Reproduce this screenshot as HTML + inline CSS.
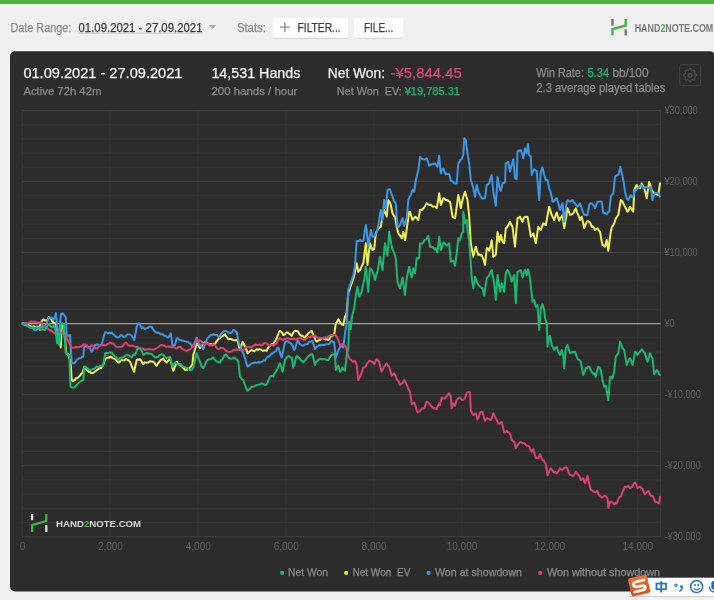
<!DOCTYPE html>
<html><head><meta charset="utf-8"><style>
html,body{margin:0;padding:0;width:714px;height:600px;overflow:hidden;background:#f0f0f0;}
body{position:relative;font-family:"Liberation Sans", sans-serif;}
</style></head><body>
<svg width="714" height="600" viewBox="0 0 714 600" style="position:absolute;left:0;top:0;font-family:'Liberation Sans', sans-serif">
<g opacity="0.999">
<defs><filter id="sh" x="-10%" y="-20%" width="120%" height="150%"><feDropShadow dx="0" dy="0.6" stdDeviation="0.7" flood-color="#000" flood-opacity="0.22"/></filter><clipPath id="plot"><rect x="21" y="100" width="640" height="440"/></clipPath></defs>
<rect x="0" y="0" width="714" height="600" fill="#f0f0f0"/>
<rect x="0" y="0" width="714" height="4" fill="#4caf3c"/>
<text x="10.4" y="31.5" font-size="12.5" fill="#8a8a8a" stroke="#8a8a8a" stroke-width="0.25" textLength="61" lengthAdjust="spacingAndGlyphs"  xml:space="preserve">Date Range:</text>
<text x="78.5" y="31.5" font-size="12.5" fill="#3a3a3a" stroke="#3a3a3a" stroke-width="0.25" textLength="124" lengthAdjust="spacingAndGlyphs"  xml:space="preserve">01.09.2021 - 27.09.2021</text>
<rect x="78" y="32.6" width="125" height="1" fill="#c4c4c4"/>
<path d="M208.7 25 L216.3 25 L212.5 29 Z" fill="#aaaaaa"/>
<text x="236.9" y="31.5" font-size="12.5" fill="#8a8a8a" stroke="#8a8a8a" stroke-width="0.25" textLength="29" lengthAdjust="spacingAndGlyphs"  xml:space="preserve">Stats:</text>
<rect x="273" y="17.7" width="75" height="20" rx="2.5" fill="#ffffff" filter="url(#sh)"/>
<path d="M279.9 27.2 H289.9 M284.9 22.2 V32.2" stroke="#8a8a8a" stroke-width="1.3" fill="none"/>
<text x="297.6" y="31.5" font-size="12.5" fill="#3a3a3a" stroke="#3a3a3a" stroke-width="0.25" textLength="43" lengthAdjust="spacingAndGlyphs"  xml:space="preserve">FILTER...</text>
<rect x="354" y="17.7" width="49.5" height="20" rx="2.5" fill="#ffffff" filter="url(#sh)"/>
<text x="364" y="31.5" font-size="12.5" fill="#3a3a3a" stroke="#3a3a3a" stroke-width="0.25" textLength="29.4" lengthAdjust="spacingAndGlyphs"  xml:space="preserve">FILE...</text>
<g fill="none" stroke-width="2.4" stroke-linecap="butt"><path d="M612.5 18.8 V25.7" stroke="#777"/><path d="M612.5 35.3 V29.2 L625.7 25.5 V18.9" stroke="#3cb54a" stroke-linejoin="miter"/><path d="M625.7 29.2 V35.4" stroke="#777"/></g>
<text x="634.7" y="31.8" font-size="10.2" font-weight="bold" fill="#7a7a7a" textLength="78.6" lengthAdjust="spacingAndGlyphs">HAND<tspan fill="#3cb54a">2</tspan>NOTE.COM</text>
<rect x="10" y="51.2" width="705" height="540.3" rx="5" fill="#2c2c2c"/>
<text x="23.4" y="77.8" font-size="14" fill="#f2f2f2" stroke="#f2f2f2" stroke-width="0.25" textLength="159" lengthAdjust="spacingAndGlyphs"  xml:space="preserve">01.09.2021 - 27.09.2021</text>
<text x="23.4" y="94.7" font-size="11" fill="#8c8c8c" stroke="#8c8c8c" stroke-width="0.25" textLength="78" lengthAdjust="spacingAndGlyphs"  xml:space="preserve">Active 72h 42m</text>
<text x="211.4" y="77.8" font-size="14" fill="#f2f2f2" stroke="#f2f2f2" stroke-width="0.25" textLength="89" lengthAdjust="spacingAndGlyphs"  xml:space="preserve">14,531 Hands</text>
<text x="211.4" y="94.7" font-size="11" fill="#8c8c8c" stroke="#8c8c8c" stroke-width="0.25" textLength="86" lengthAdjust="spacingAndGlyphs"  xml:space="preserve">200 hands / hour</text>
<text x="327.8" y="77.8" font-size="14" fill="#f2f2f2" stroke="#f2f2f2" stroke-width="0.25" textLength="57.2" lengthAdjust="spacingAndGlyphs"  xml:space="preserve">Net Won:</text>
<text x="390.6" y="77.8" font-size="14" fill="#e0457a" stroke="#e0457a" stroke-width="0.25" textLength="71.1" lengthAdjust="spacingAndGlyphs"  xml:space="preserve">-¥5,844.45</text>
<text x="336.8" y="94.7" font-size="11" fill="#8c8c8c" stroke="#8c8c8c" stroke-width="0.25" textLength="65" lengthAdjust="spacingAndGlyphs"  xml:space="preserve">Net Won  EV:</text>
<text x="404.7" y="94.7" font-size="11" fill="#1db870" stroke="#1db870" stroke-width="0.25" textLength="55.3" lengthAdjust="spacingAndGlyphs"  xml:space="preserve">¥19,785.31</text>
<text x="536.3" y="76.7" font-size="12" fill="#8c8c8c" stroke="#8c8c8c" stroke-width="0.25" textLength="47.6" lengthAdjust="spacingAndGlyphs"  xml:space="preserve">Win Rate:</text>
<text x="587.4" y="76.7" font-size="12" fill="#1db870" stroke="#1db870" stroke-width="0.25" textLength="21.7" lengthAdjust="spacingAndGlyphs"  xml:space="preserve">5.34</text>
<text x="612.4" y="76.7" font-size="12" fill="#8c8c8c" stroke="#8c8c8c" stroke-width="0.25" textLength="36.1" lengthAdjust="spacingAndGlyphs"  xml:space="preserve">bb/100</text>
<text x="536.3" y="92" font-size="12" fill="#8c8c8c" stroke="#8c8c8c" stroke-width="0.25" textLength="129.1" lengthAdjust="spacingAndGlyphs"  xml:space="preserve">2.3 average played tables</text>
<rect x="679.7" y="64.7" width="21" height="21" rx="2" fill="none" stroke="#444" stroke-width="1"/>
<path d="M696.57 74.55 L696.57 75.85 L694.69 76.62 L694.32 77.51 L695.10 79.39 L694.19 80.30 L692.31 79.52 L691.42 79.89 L690.65 81.77 L689.35 81.77 L688.58 79.89 L687.69 79.52 L685.81 80.30 L684.90 79.39 L685.68 77.51 L685.31 76.62 L683.43 75.85 L683.43 74.55 L685.31 73.78 L685.68 72.89 L684.90 71.01 L685.81 70.10 L687.69 70.88 L688.58 70.51 L689.35 68.63 L690.65 68.63 L691.42 70.51 L692.31 70.88 L694.19 70.10 L695.10 71.01 L694.32 72.89 L694.69 73.78 Z" fill="none" stroke="#5a5a5a" stroke-width="0.9" stroke-linejoin="round"/>
<circle cx="690" cy="75.2" r="2" fill="none" stroke="#5a5a5a" stroke-width="0.9"/>
<path d="M22 536.75 H660.5" stroke="rgba(255,255,255,0.1)" stroke-width="1.1"/><path d="M22 522.54 H660.5" stroke="rgba(255,255,255,0.045)" stroke-width="1.1"/><path d="M22 508.33 H660.5" stroke="rgba(255,255,255,0.045)" stroke-width="1.1"/><path d="M22 494.12 H660.5" stroke="rgba(255,255,255,0.045)" stroke-width="1.1"/><path d="M22 479.91 H660.5" stroke="rgba(255,255,255,0.045)" stroke-width="1.1"/><path d="M22 465.7 H660.5" stroke="rgba(255,255,255,0.1)" stroke-width="1.1"/><path d="M22 451.49 H660.5" stroke="rgba(255,255,255,0.045)" stroke-width="1.1"/><path d="M22 437.28 H660.5" stroke="rgba(255,255,255,0.045)" stroke-width="1.1"/><path d="M22 423.07 H660.5" stroke="rgba(255,255,255,0.045)" stroke-width="1.1"/><path d="M22 408.86 H660.5" stroke="rgba(255,255,255,0.045)" stroke-width="1.1"/><path d="M22 394.65 H660.5" stroke="rgba(255,255,255,0.1)" stroke-width="1.1"/><path d="M22 380.44 H660.5" stroke="rgba(255,255,255,0.045)" stroke-width="1.1"/><path d="M22 366.23 H660.5" stroke="rgba(255,255,255,0.045)" stroke-width="1.1"/><path d="M22 352.02 H660.5" stroke="rgba(255,255,255,0.045)" stroke-width="1.1"/><path d="M22 337.81 H660.5" stroke="rgba(255,255,255,0.045)" stroke-width="1.1"/><path d="M22 323.6 H660.5" stroke="#a0a0a0" stroke-width="1.2"/><path d="M22 309.39 H660.5" stroke="rgba(255,255,255,0.045)" stroke-width="1.1"/><path d="M22 295.18 H660.5" stroke="rgba(255,255,255,0.045)" stroke-width="1.1"/><path d="M22 280.97 H660.5" stroke="rgba(255,255,255,0.045)" stroke-width="1.1"/><path d="M22 266.76 H660.5" stroke="rgba(255,255,255,0.045)" stroke-width="1.1"/><path d="M22 252.55 H660.5" stroke="rgba(255,255,255,0.1)" stroke-width="1.1"/><path d="M22 238.34 H660.5" stroke="rgba(255,255,255,0.045)" stroke-width="1.1"/><path d="M22 224.13 H660.5" stroke="rgba(255,255,255,0.045)" stroke-width="1.1"/><path d="M22 209.92 H660.5" stroke="rgba(255,255,255,0.045)" stroke-width="1.1"/><path d="M22 195.71 H660.5" stroke="rgba(255,255,255,0.045)" stroke-width="1.1"/><path d="M22 181.5 H660.5" stroke="rgba(255,255,255,0.1)" stroke-width="1.1"/><path d="M22 167.29 H660.5" stroke="rgba(255,255,255,0.045)" stroke-width="1.1"/><path d="M22 153.08 H660.5" stroke="rgba(255,255,255,0.045)" stroke-width="1.1"/><path d="M22 138.87 H660.5" stroke="rgba(255,255,255,0.045)" stroke-width="1.1"/><path d="M22 124.66 H660.5" stroke="rgba(255,255,255,0.045)" stroke-width="1.1"/><path d="M22 110.45 H660.5" stroke="rgba(255,255,255,0.1)" stroke-width="1.1"/><path d="M22.2 110 V537" stroke="rgba(255,255,255,0.04)" stroke-width="1.1"/><path d="M110.1 110 V537" stroke="rgba(255,255,255,0.04)" stroke-width="1.1"/><path d="M198.0 110 V537" stroke="rgba(255,255,255,0.04)" stroke-width="1.1"/><path d="M285.9 110 V537" stroke="rgba(255,255,255,0.04)" stroke-width="1.1"/><path d="M373.8 110 V537" stroke="rgba(255,255,255,0.04)" stroke-width="1.1"/><path d="M461.7 110 V537" stroke="rgba(255,255,255,0.04)" stroke-width="1.1"/><path d="M549.6 110 V537" stroke="rgba(255,255,255,0.04)" stroke-width="1.1"/><path d="M637.5 110 V537" stroke="rgba(255,255,255,0.04)" stroke-width="1.1"/><path d="M660.4 110 V537" stroke="rgba(255,255,255,0.07)" stroke-width="1.1"/>
<text x="664.5" y="113.85000000000002" font-size="10.5" fill="#626262" textLength="33.25" lengthAdjust="spacingAndGlyphs"  xml:space="preserve">¥30,000</text>
<text x="664.5" y="184.90000000000003" font-size="10.5" fill="#626262" textLength="33.25" lengthAdjust="spacingAndGlyphs"  xml:space="preserve">¥20,000</text>
<text x="664.5" y="255.95000000000002" font-size="10.5" fill="#626262" textLength="33.25" lengthAdjust="spacingAndGlyphs"  xml:space="preserve">¥10,000</text>
<text x="664.5" y="327.0" font-size="10.5" fill="#626262" textLength="10.23" lengthAdjust="spacingAndGlyphs"  xml:space="preserve">¥0</text>
<text x="664.5" y="398.05" font-size="10.5" fill="#626262" textLength="36.31" lengthAdjust="spacingAndGlyphs"  xml:space="preserve">-¥10,000</text>
<text x="664.5" y="469.1" font-size="10.5" fill="#626262" textLength="36.31" lengthAdjust="spacingAndGlyphs"  xml:space="preserve">-¥20,000</text>
<text x="664.5" y="540.15" font-size="10.5" fill="#626262" textLength="36.31" lengthAdjust="spacingAndGlyphs"  xml:space="preserve">-¥30,000</text>
<text x="22.5" y="549.6" font-size="10" fill="#626262" text-anchor="middle"  xml:space="preserve">0</text>
<text x="110.4" y="549.6" font-size="10" fill="#626262" text-anchor="middle"  xml:space="preserve">2,000</text>
<text x="198.3" y="549.6" font-size="10" fill="#626262" text-anchor="middle"  xml:space="preserve">4,000</text>
<text x="286.2" y="549.6" font-size="10" fill="#626262" text-anchor="middle"  xml:space="preserve">6,000</text>
<text x="374.1" y="549.6" font-size="10" fill="#626262" text-anchor="middle"  xml:space="preserve">8,000</text>
<text x="462.0" y="549.6" font-size="10" fill="#626262" text-anchor="middle"  xml:space="preserve">10,000</text>
<text x="549.9" y="549.6" font-size="10" fill="#626262" text-anchor="middle"  xml:space="preserve">12,000</text>
<text x="637.8" y="549.6" font-size="10" fill="#626262" text-anchor="middle"  xml:space="preserve">14,000</text>
<g fill="none" stroke-width="2.3"><path d="M32.1 514 V520.2" stroke="#e0e0e0"/><path d="M32.1 532 V525.2 L46.3 521 V514" stroke="#3cb54a"/><path d="M46.3 525.2 V532" stroke="#e0e0e0"/></g>
<text x="56.1" y="526.8" font-size="9.7" font-weight="bold" fill="#d6d6d6" textLength="85" lengthAdjust="spacingAndGlyphs">HAND<tspan fill="#3cb54a">2</tspan>NOTE.COM</text>
<g clip-path="url(#plot)" fill="none" stroke-width="2" stroke-linejoin="round" stroke-linecap="round">
<path d="M22.50 323.75 L23.75 323.60 L25.00 324.29 L26.25 324.76 L27.50 325.00 L28.75 325.52 L30.00 325.99 L31.25 326.35 L32.50 327.10 L33.55 326.18 L34.60 326.65 L35.65 327.02 L36.70 326.70 L37.80 326.63 L38.90 326.67 L40.00 325.80 L41.25 322.38 L42.50 320.00 L43.75 319.48 L45.00 320.40 L46.25 320.58 L47.50 320.00 L48.75 317.10 L49.77 317.60 L50.80 318.30 L52.50 321.70 L54.20 323.30 L55.80 323.30 L57.10 334.20 L58.15 336.54 L59.20 338.30 L60.80 347.50 L61.70 325.00 L63.30 325.00 L65.00 338.30 L66.25 353.30 L67.28 353.59 L68.30 355.00 L70.00 360.00 L70.80 365.00 L71.70 380.00 L72.80 381.24 L73.90 380.51 L75.00 380.00 L75.80 378.30 L76.92 378.29 L78.03 377.59 L79.15 376.43 L80.27 375.28 L81.38 373.44 L82.50 373.30 L84.20 366.70 L85.45 368.36 L86.70 370.00 L87.80 370.87 L88.90 372.07 L90.00 372.00 L91.25 373.09 L92.50 373.14 L93.75 372.54 L95.00 371.70 L96.25 370.32 L97.50 369.60 L98.75 368.72 L100.00 368.30 L101.10 367.79 L102.20 366.27 L103.30 365.00 L105.00 359.20 L106.10 358.40 L107.20 357.87 L108.30 357.50 L109.43 357.73 L110.57 356.44 L111.70 357.50 L112.80 358.08 L113.90 358.53 L115.00 359.20 L116.10 359.80 L117.20 361.14 L118.30 362.50 L119.43 362.32 L120.57 360.67 L121.70 360.00 L122.95 360.36 L124.20 360.51 L125.45 359.03 L126.70 359.20 L127.80 360.17 L128.90 360.31 L130.00 361.70 L131.40 365.44 L132.80 368.81 L134.20 371.70 L135.45 365.31 L136.70 360.00 L137.80 359.46 L138.90 359.77 L140.00 359.20 L141.10 360.51 L142.20 362.71 L143.30 364.20 L144.55 362.38 L145.80 362.64 L147.05 362.51 L148.30 362.50 L149.55 361.40 L150.80 361.22 L152.05 361.60 L153.30 361.70 L154.43 362.72 L155.57 364.66 L156.70 365.80 L157.80 363.62 L158.90 362.33 L160.00 360.80 L161.10 359.46 L162.20 359.54 L163.30 358.30 L164.43 360.47 L165.57 361.34 L166.70 362.50 L167.80 360.98 L168.90 359.96 L170.00 358.30 L171.10 362.57 L172.20 367.01 L173.30 370.80 L174.43 368.03 L175.57 365.01 L176.70 361.70 L177.95 363.70 L179.20 364.19 L180.45 365.43 L181.70 365.80 L182.80 367.54 L183.90 368.59 L185.00 370.00 L186.25 369.54 L187.50 369.79 L188.75 368.86 L190.00 367.50 L191.25 365.97 L192.50 364.20 L193.30 355.00 L194.43 351.33 L195.57 347.49 L196.70 343.30 L197.80 344.57 L198.90 346.17 L200.00 348.30 L201.10 347.24 L202.20 345.26 L203.30 343.30 L204.43 342.71 L205.57 342.01 L206.70 342.50 L207.80 343.55 L208.90 344.38 L210.00 344.20 L211.25 343.99 L212.50 345.13 L213.75 343.92 L215.00 344.20 L216.25 341.44 L217.50 340.13 L218.75 338.67 L220.00 338.30 L221.25 337.00 L222.50 336.16 L223.75 335.32 L225.00 334.20 L226.10 336.37 L227.20 337.47 L228.30 339.20 L229.55 339.02 L230.80 339.02 L232.05 339.52 L233.30 340.00 L234.70 340.30 L236.10 340.32 L237.50 340.00 L238.75 345.58 L240.00 350.00 L241.25 346.27 L242.50 341.70 L243.75 343.79 L245.00 346.70 L246.25 349.43 L247.50 353.30 L248.90 352.25 L250.30 350.95 L251.70 350.00 L252.95 350.75 L254.20 351.13 L255.45 350.27 L256.70 349.20 L257.95 349.87 L259.20 349.15 L260.45 349.39 L261.70 350.00 L262.95 350.82 L264.20 350.57 L265.45 350.39 L266.70 350.80 L267.80 348.22 L268.90 346.76 L270.00 345.80 L271.10 344.22 L272.20 344.26 L273.30 344.20 L274.43 341.75 L275.57 340.07 L276.70 338.30 L277.80 335.46 L278.90 332.20 L280.00 330.80 L281.10 331.76 L282.20 332.73 L283.30 335.00 L284.43 334.86 L285.57 333.53 L286.70 332.50 L287.80 332.50 L288.90 333.53 L290.00 334.20 L291.70 335.80 L292.80 333.36 L293.90 331.68 L295.00 330.80 L296.10 330.90 L297.20 331.23 L298.30 331.70 L299.43 334.31 L300.57 335.33 L301.70 335.80 L302.80 335.80 L303.90 337.11 L305.00 337.50 L306.10 335.64 L307.20 335.04 L308.30 333.30 L309.43 332.45 L310.57 331.58 L311.70 330.80 L312.95 333.91 L314.20 336.70 L315.45 339.98 L316.70 341.70 L317.80 340.78 L318.90 340.23 L320.00 340.00 L321.25 338.80 L322.50 337.94 L323.75 338.65 L325.00 339.20 L326.10 339.46 L327.20 339.15 L328.30 340.00 L329.43 339.14 L330.57 336.87 L331.70 335.80 L332.95 335.25 L334.20 335.00 L335.80 323.30 L337.05 321.60 L338.30 319.20 L339.55 321.33 L340.80 323.30 L342.05 324.49 L343.30 325.00 L345.00 316.70 L346.70 312.50 L348.30 293.30 L349.43 289.99 L350.57 286.66 L351.70 283.30 L352.80 279.66 L353.90 276.67 L355.00 271.70 L356.70 263.30 L358.30 271.70 L360.00 270.00 L361.10 267.64 L362.20 265.34 L363.30 263.30 L364.55 252.98 L365.80 243.30 L367.50 265.00 L368.75 253.69 L370.00 243.30 L371.25 247.29 L372.50 250.00 L374.20 249.20 L375.80 233.30 L377.05 231.22 L378.30 228.30 L379.55 227.77 L380.80 226.70 L382.50 216.70 L384.20 210.00 L385.45 213.08 L386.70 216.70 L388.30 200.00 L389.55 201.93 L390.80 205.00 L392.50 213.30 L393.75 215.51 L395.00 216.70 L396.70 226.70 L398.30 233.30 L399.43 234.81 L400.57 236.38 L401.70 238.30 L403.30 231.70 L405.00 240.00 L406.25 232.61 L407.50 223.30 L409.20 211.70 L410.00 211.70 L411.25 216.14 L412.50 220.00 L413.75 218.64 L415.00 216.70 L416.10 217.38 L417.20 218.66 L418.30 220.00 L420.00 210.00 L421.10 209.83 L422.20 210.03 L423.30 208.30 L424.43 207.15 L425.57 204.96 L426.70 203.30 L427.80 204.20 L428.90 204.77 L430.00 205.00 L431.10 204.74 L432.20 206.25 L433.30 206.70 L434.43 206.39 L435.57 206.81 L436.70 208.30 L437.95 201.62 L439.20 193.30 L440.80 205.00 L442.05 201.91 L443.30 198.30 L444.43 198.75 L445.57 199.95 L446.70 200.00 L447.80 200.50 L448.90 201.36 L450.00 201.70 L451.25 208.82 L452.50 216.70 L453.75 217.54 L455.00 218.30 L456.10 211.44 L457.20 203.17 L458.30 195.00 L459.55 200.55 L460.80 208.30 L462.05 201.96 L463.30 196.70 L465.00 191.70 L466.25 196.21 L467.50 200.00 L469.20 216.70 L470.80 243.30 L472.05 250.15 L473.30 256.70 L474.55 251.05 L475.80 246.70 L477.05 251.10 L478.30 255.00 L479.43 254.34 L480.57 255.50 L481.70 255.00 L482.80 257.97 L483.90 260.72 L485.00 265.00 L486.70 248.30 L487.95 248.53 L489.20 250.80 L490.45 246.62 L491.70 240.00 L493.30 256.70 L494.55 255.89 L495.80 255.00 L497.50 231.70 L499.20 241.70 L500.80 235.00 L502.50 241.70 L504.20 243.30 L505.80 228.30 L507.05 227.47 L508.30 225.00 L510.00 221.70 L511.25 224.94 L512.50 226.70 L513.75 237.07 L515.00 246.70 L516.25 232.13 L517.50 218.30 L518.75 217.79 L520.00 216.70 L521.25 219.59 L522.50 221.70 L523.75 218.14 L525.00 216.70 L526.25 217.05 L527.50 216.70 L529.20 226.70 L530.80 236.70 L532.05 234.99 L533.30 233.30 L534.55 238.34 L535.80 243.30 L537.05 234.84 L538.30 226.70 L539.55 228.91 L540.80 230.00 L542.05 226.72 L543.30 223.30 L544.55 224.29 L545.80 225.00 L546.93 218.86 L548.07 212.46 L549.20 206.70 L550.45 210.83 L551.70 215.00 L552.95 217.61 L554.20 220.00 L555.45 215.91 L556.70 212.50 L557.95 216.81 L559.20 220.80 L560.30 218.11 L561.40 216.62 L562.50 215.00 L564.20 228.30 L565.30 221.80 L566.40 215.63 L567.50 208.30 L568.75 211.27 L570.00 215.00 L571.10 214.46 L572.20 214.07 L573.30 213.30 L574.55 210.63 L575.80 208.30 L577.05 212.40 L578.30 215.00 L580.00 220.00 L581.70 216.70 L582.95 221.99 L584.20 228.30 L585.45 224.96 L586.70 221.70 L587.95 221.29 L589.20 221.70 L590.45 223.30 L591.70 226.70 L592.80 226.38 L593.90 227.76 L595.00 230.00 L596.25 229.21 L597.50 228.30 L598.75 230.41 L600.00 231.70 L601.25 238.97 L602.50 245.00 L603.75 245.51 L605.00 246.70 L606.70 240.00 L608.30 250.80 L609.55 240.84 L610.80 231.70 L612.05 226.86 L613.30 225.00 L614.55 222.39 L615.80 218.30 L617.05 216.74 L618.30 215.00 L619.55 207.49 L620.80 200.00 L622.05 201.04 L623.30 203.30 L624.55 205.93 L625.80 208.30 L627.50 211.70 L628.75 210.18 L630.00 206.70 L631.10 208.41 L632.20 209.93 L633.30 211.70 L634.20 190.00 L635.45 187.40 L636.70 185.00 L637.80 186.93 L638.90 187.88 L640.00 188.30 L641.70 183.30 L642.95 186.41 L644.20 188.30 L645.45 192.75 L646.70 198.30 L647.95 189.85 L649.20 181.70 L650.45 185.44 L651.70 190.00 L652.80 191.50 L653.90 192.94 L655.00 193.30 L656.10 194.19 L657.20 194.52 L658.30 195.00 L660.00 183.30" stroke="#f0f050"/>
<path d="M22.50 322.90 L23.75 323.25 L25.00 323.30 L26.25 323.86 L27.50 325.80 L28.75 326.63 L30.00 327.50 L31.25 327.42 L32.50 328.30 L33.75 329.24 L35.00 330.40 L36.25 329.86 L37.50 329.20 L38.75 328.48 L40.00 328.30 L41.25 326.40 L42.50 327.50 L43.75 326.67 L45.00 325.80 L46.70 323.30 L47.73 320.19 L48.75 317.50 L50.23 318.31 L51.70 317.50 L53.30 320.00 L55.00 316.70 L55.80 312.90 L56.70 321.70 L57.50 332.50 L59.20 330.00 L60.00 325.80 L60.80 314.20 L62.50 313.30 L64.20 315.00 L65.80 317.50 L66.70 335.00 L68.30 335.80 L70.00 335.00 L71.70 363.30 L73.30 363.30 L74.43 363.12 L75.57 361.74 L76.70 360.00 L77.80 359.17 L78.90 358.27 L80.00 358.30 L81.10 357.79 L82.20 356.80 L83.30 356.70 L84.20 346.70 L85.45 345.34 L86.70 346.70 L87.80 346.58 L88.90 348.04 L90.00 348.30 L91.70 351.70 L92.80 350.10 L93.90 347.55 L95.00 345.00 L96.12 344.72 L97.23 344.31 L98.35 344.68 L99.47 345.90 L100.58 344.95 L101.70 344.20 L102.80 340.27 L103.90 336.17 L105.00 332.50 L106.10 332.30 L107.20 333.02 L108.30 333.30 L109.43 332.54 L110.57 333.22 L111.70 332.50 L112.80 334.00 L113.90 334.81 L115.00 335.80 L116.10 336.91 L117.20 337.59 L118.30 337.50 L119.43 336.74 L120.57 335.17 L121.70 335.00 L122.80 336.44 L123.90 336.85 L125.00 336.70 L126.10 335.71 L127.20 334.59 L128.30 334.20 L129.43 334.36 L130.57 334.63 L131.70 335.80 L132.95 337.60 L134.20 340.00 L135.45 334.05 L136.70 326.70 L137.95 324.15 L139.20 323.30 L140.45 325.46 L141.70 328.30 L142.80 327.34 L143.90 328.20 L145.00 329.20 L146.10 328.23 L147.20 328.01 L148.30 327.50 L149.43 326.74 L150.57 326.72 L151.70 326.70 L152.80 328.80 L153.90 330.33 L155.00 331.70 L156.10 332.33 L157.20 332.78 L158.30 332.50 L159.43 333.13 L160.57 334.13 L161.70 334.20 L162.80 334.27 L163.90 335.50 L165.00 335.80 L166.10 336.07 L167.20 337.21 L168.30 337.50 L169.55 335.69 L170.80 333.30 L172.50 345.00 L173.75 345.01 L175.00 345.00 L176.70 338.30 L177.80 338.20 L178.90 339.34 L180.00 340.00 L181.10 340.16 L182.20 340.78 L183.30 340.80 L184.43 341.11 L185.57 341.36 L186.70 341.70 L187.80 341.92 L188.90 343.03 L190.00 343.30 L191.25 344.58 L192.50 346.70 L193.75 344.82 L195.00 341.70 L196.70 337.50 L197.80 340.66 L198.90 343.12 L200.00 345.80 L201.10 346.23 L202.20 347.32 L203.30 349.20 L204.43 345.59 L205.57 342.91 L206.70 340.00 L207.80 338.02 L208.90 336.77 L210.00 335.80 L211.10 334.86 L212.20 335.32 L213.30 334.20 L214.43 334.80 L215.57 335.03 L216.70 335.00 L217.95 336.25 L219.20 337.50 L220.45 334.64 L221.70 333.30 L222.80 332.04 L223.90 331.26 L225.00 330.80 L226.10 331.31 L227.20 331.44 L228.30 332.50 L229.43 332.77 L230.57 333.04 L231.70 332.50 L233.30 330.00 L234.43 330.01 L235.57 331.83 L236.70 331.70 L238.30 340.80 L239.43 344.41 L240.57 347.47 L241.70 350.00 L242.80 352.48 L243.90 355.19 L245.00 358.30 L246.25 362.61 L247.50 366.70 L248.75 365.68 L250.00 365.00 L251.25 363.62 L252.50 363.33 L253.75 363.08 L255.00 362.50 L256.25 362.90 L257.50 362.51 L258.75 361.82 L260.00 362.50 L261.25 361.88 L262.50 361.55 L263.75 360.34 L265.00 360.80 L266.10 358.61 L267.20 357.39 L268.30 356.70 L269.43 356.14 L270.57 354.87 L271.70 353.30 L272.80 353.42 L273.90 352.27 L275.00 351.70 L276.10 351.15 L277.20 348.11 L278.30 347.50 L279.43 350.89 L280.57 354.31 L281.70 357.50 L282.80 352.70 L283.90 347.04 L285.00 342.50 L286.10 341.58 L287.20 341.13 L288.30 341.70 L289.43 342.79 L290.57 343.01 L291.70 344.20 L292.95 346.54 L294.20 350.00 L295.30 347.86 L296.40 344.02 L297.50 340.80 L298.75 342.14 L300.00 344.20 L301.10 344.91 L302.20 345.51 L303.30 345.80 L304.43 344.70 L305.57 344.29 L306.70 344.20 L307.80 343.95 L308.90 341.76 L310.00 341.70 L311.25 341.57 L312.50 340.80 L313.75 345.38 L315.00 349.20 L316.10 347.44 L317.20 346.50 L318.30 345.80 L319.55 344.65 L320.80 345.36 L322.05 344.61 L323.30 345.00 L324.55 344.97 L325.80 344.25 L327.05 344.20 L328.30 344.20 L329.43 343.74 L330.57 342.04 L331.70 340.80 L332.95 341.89 L334.20 342.50 L335.80 357.50 L337.05 354.35 L338.30 350.00 L339.55 348.44 L340.80 345.00 L342.05 346.43 L343.30 347.50 L345.00 333.30 L346.70 323.30 L348.30 290.00 L350.00 285.00 L351.70 280.00 L353.30 275.00 L355.00 266.70 L355.80 253.30 L356.70 240.80 L357.80 240.92 L358.90 240.88 L360.00 240.00 L361.10 241.06 L362.20 240.76 L363.30 240.80 L364.55 233.06 L365.80 225.00 L366.70 230.00 L368.30 246.70 L369.55 237.65 L370.80 230.00 L372.50 236.70 L373.75 236.49 L375.00 235.80 L376.25 232.50 L377.50 230.00 L378.30 225.00 L379.55 217.69 L380.80 210.00 L382.50 220.00 L384.20 200.00 L385.80 208.30 L387.50 190.00 L388.75 189.33 L390.00 189.20 L391.25 193.23 L392.50 196.70 L394.20 201.70 L395.80 203.30 L396.70 216.70 L397.50 226.70 L398.75 227.09 L400.00 225.00 L401.25 221.51 L402.50 218.30 L404.20 225.80 L405.45 221.57 L406.70 218.30 L408.30 200.00 L409.55 197.04 L410.80 195.00 L412.50 190.00 L414.20 191.70 L415.80 180.00 L417.05 175.23 L418.30 170.00 L420.00 156.70 L421.10 158.32 L422.20 159.08 L423.30 159.20 L424.43 159.58 L425.57 159.33 L426.70 158.30 L427.95 161.57 L429.20 165.80 L430.45 164.90 L431.70 164.20 L432.80 164.25 L433.90 163.77 L435.00 163.30 L436.25 164.74 L437.50 166.70 L439.20 155.80 L440.80 173.30 L442.05 169.73 L443.30 168.30 L444.55 171.73 L445.80 174.20 L446.93 173.79 L448.07 173.94 L449.20 174.20 L450.80 180.80 L451.93 180.82 L453.07 181.78 L454.20 183.30 L455.45 183.45 L456.70 183.30 L458.30 163.30 L459.43 161.80 L460.57 159.75 L461.70 159.20 L463.30 155.00 L464.20 138.30 L465.80 140.00 L467.50 153.30 L469.20 163.30 L470.80 180.00 L472.05 184.00 L473.30 188.30 L475.00 196.70 L476.70 185.00 L478.30 191.70 L479.55 194.03 L480.80 196.70 L482.05 198.73 L483.30 198.30 L485.00 198.30 L486.70 185.00 L487.95 184.54 L489.20 183.30 L490.45 178.36 L491.70 175.00 L493.30 191.70 L494.55 199.13 L495.80 205.80 L497.50 176.70 L499.20 186.70 L500.80 190.80 L502.50 183.30 L503.75 182.93 L505.00 182.50 L505.80 163.30 L507.05 162.55 L508.30 161.70 L510.00 171.70 L511.70 165.00 L513.30 159.20 L515.00 178.30 L516.70 179.20 L517.50 151.70 L518.60 150.24 L519.70 151.18 L520.80 150.00 L522.05 153.54 L523.30 158.30 L525.00 148.30 L526.70 153.30 L528.00 144.20 L529.20 155.00 L530.80 156.70 L531.70 175.00 L532.95 171.29 L534.20 169.20 L535.45 170.46 L536.70 170.80 L537.95 185.57 L539.20 200.00 L540.80 171.70 L542.50 167.50 L544.20 175.00 L545.80 180.00 L547.50 180.00 L549.20 188.30 L550.80 192.50 L552.50 201.70 L553.75 201.34 L555.00 200.00 L556.70 198.30 L557.95 202.15 L559.20 206.70 L560.00 210.00 L561.25 206.41 L562.50 203.30 L564.20 221.70 L565.45 211.83 L566.70 201.70 L567.80 200.25 L568.90 200.96 L570.00 201.70 L571.25 200.80 L572.50 200.00 L573.75 202.23 L575.00 203.30 L576.25 205.27 L577.50 206.70 L578.75 205.14 L580.00 203.30 L581.70 208.30 L582.95 212.20 L584.20 215.00 L585.30 214.67 L586.40 215.29 L587.50 215.00 L589.20 205.00 L590.45 203.47 L591.70 203.30 L592.80 204.69 L593.90 205.40 L595.00 208.30 L596.25 204.95 L597.50 201.70 L598.55 201.88 L599.60 201.59 L600.65 201.52 L601.70 201.70 L603.30 213.30 L604.43 213.02 L605.57 213.16 L606.70 214.20 L607.95 212.43 L609.20 211.70 L610.80 196.70 L612.05 194.62 L613.30 193.30 L615.00 176.70 L616.10 175.75 L617.20 174.99 L618.30 175.00 L619.30 171.02 L620.30 166.70 L621.70 173.30 L623.30 180.00 L625.00 191.70 L626.70 198.30 L628.30 200.00 L629.55 197.51 L630.80 195.00 L632.05 197.28 L633.30 196.70 L635.00 190.00 L636.25 190.13 L637.50 188.30 L638.60 188.29 L639.70 186.16 L640.80 185.00 L642.05 186.35 L643.30 188.30 L644.55 187.62 L645.80 186.70 L647.05 186.98 L648.30 188.30 L649.55 188.16 L650.80 186.70 L652.50 200.00 L653.75 195.89 L655.00 193.30 L656.10 193.01 L657.20 193.07 L658.30 193.30 L660.00 196.70" stroke="#3b97e3"/>
<path d="M22.50 323.75 L23.75 323.91 L25.00 323.77 L26.25 322.84 L27.50 323.30 L28.75 322.69 L30.00 322.12 L31.25 321.43 L32.50 321.70 L33.75 321.59 L35.00 321.70 L36.25 322.16 L37.50 322.50 L38.75 322.43 L40.00 322.90 L41.25 322.45 L42.50 325.00 L43.75 325.87 L45.00 326.70 L46.25 327.93 L47.50 328.30 L48.75 329.37 L50.00 330.80 L51.10 330.08 L52.20 331.64 L53.30 332.10 L54.55 333.27 L55.80 333.30 L57.05 331.70 L58.30 331.70 L59.55 332.06 L60.80 332.50 L62.05 332.57 L63.30 333.30 L64.35 332.39 L65.40 334.20 L66.45 336.88 L67.50 340.00 L68.75 342.04 L70.00 345.00 L71.70 347.50 L72.80 347.70 L73.90 347.53 L75.00 347.50 L76.25 346.94 L77.50 347.30 L78.75 347.24 L80.00 346.70 L81.12 346.77 L82.23 345.52 L83.35 344.04 L84.47 345.27 L85.58 344.35 L86.70 345.00 L88.30 348.00 L89.43 346.97 L90.57 346.47 L91.70 345.00 L92.80 345.85 L93.90 347.14 L95.00 348.30 L96.12 348.03 L97.23 348.62 L98.35 347.03 L99.47 345.65 L100.58 345.41 L101.70 345.00 L102.89 345.61 L104.07 344.91 L105.26 345.15 L106.44 344.94 L107.63 343.63 L108.81 343.77 L110.00 342.50 L111.25 343.35 L112.50 343.50 L113.75 343.83 L115.00 345.80 L116.25 346.82 L117.50 347.06 L118.75 347.29 L120.00 346.70 L121.16 346.82 L122.32 346.51 L123.48 345.16 L124.64 343.25 L125.80 342.50 L126.85 343.41 L127.90 345.06 L128.95 345.38 L130.00 345.80 L131.25 345.87 L132.50 345.71 L133.75 346.14 L135.00 346.70 L136.25 347.16 L137.50 346.59 L138.75 347.72 L140.00 348.30 L141.25 349.33 L142.50 348.29 L143.75 349.08 L145.00 350.00 L146.25 349.36 L147.50 349.47 L148.75 349.29 L150.00 349.20 L151.25 349.38 L152.50 349.56 L153.75 349.67 L155.00 349.20 L156.12 348.41 L157.23 347.92 L158.35 347.26 L159.47 345.86 L160.58 345.25 L161.70 345.00 L162.95 345.43 L164.20 345.39 L165.45 346.51 L166.70 346.70 L167.95 346.36 L169.20 346.89 L170.45 346.57 L171.70 347.50 L172.80 347.07 L173.90 347.05 L175.00 347.78 L176.10 348.48 L177.20 348.34 L178.30 346.70 L179.43 347.08 L180.57 346.97 L181.70 348.30 L182.95 349.41 L184.20 349.92 L185.45 350.39 L186.70 350.80 L187.80 350.46 L188.90 349.39 L190.00 349.20 L191.10 348.48 L192.20 347.17 L193.30 346.70 L194.43 345.39 L195.57 342.85 L196.70 339.20 L197.80 340.12 L198.90 340.36 L200.00 340.80 L201.10 341.23 L202.20 342.32 L203.30 344.20 L204.43 343.36 L205.57 343.45 L206.70 343.30 L207.80 343.55 L208.90 344.53 L210.00 345.80 L211.25 344.95 L212.50 345.50 L213.75 344.46 L215.00 345.00 L216.10 346.81 L217.20 348.37 L218.30 349.20 L219.55 348.98 L220.80 347.76 L222.05 348.07 L223.30 348.30 L224.55 349.29 L225.80 350.60 L227.05 351.33 L228.30 351.70 L229.55 352.00 L230.80 351.61 L232.05 351.20 L233.30 350.00 L234.55 350.28 L235.80 349.36 L237.05 350.25 L238.30 349.20 L239.55 349.51 L240.80 350.21 L242.05 350.37 L243.30 350.00 L244.55 348.59 L245.80 347.41 L247.05 346.63 L248.30 346.70 L249.42 347.06 L250.53 347.18 L251.65 347.63 L252.77 346.02 L253.88 345.49 L255.00 345.00 L256.12 344.52 L257.23 345.10 L258.35 344.88 L259.47 344.36 L260.58 345.21 L261.70 345.00 L262.80 344.50 L263.90 343.13 L265.00 343.43 L266.10 343.13 L267.20 343.80 L268.30 345.00 L269.55 345.46 L270.80 345.21 L272.05 344.67 L273.30 345.80 L274.43 344.67 L275.57 344.12 L276.70 343.30 L277.80 340.01 L278.90 339.15 L280.00 338.30 L281.10 338.94 L282.20 339.34 L283.30 340.00 L284.43 338.95 L285.57 339.01 L286.70 338.30 L287.80 338.18 L288.90 339.08 L290.00 339.00 L291.25 338.67 L292.50 339.31 L293.75 338.70 L295.00 339.20 L296.25 339.86 L297.50 338.82 L298.75 338.41 L300.00 337.50 L301.25 338.17 L302.50 338.96 L303.75 339.64 L305.00 340.00 L306.25 338.48 L307.50 337.65 L308.75 337.15 L310.00 337.50 L311.40 335.94 L312.80 336.50 L314.20 335.80 L315.57 335.45 L316.93 337.26 L318.30 338.30 L319.55 337.71 L320.80 337.95 L322.05 338.43 L323.30 337.50 L324.55 338.06 L325.80 337.16 L327.05 337.40 L328.30 336.70 L329.55 335.63 L330.80 335.24 L332.05 334.90 L333.30 335.00 L334.43 334.96 L335.57 335.38 L336.70 336.70 L338.30 340.00 L340.00 345.00 L341.10 345.05 L342.20 343.89 L343.30 345.00 L344.55 345.47 L345.80 346.70 L347.50 353.30 L348.75 356.74 L350.00 359.20 L351.25 360.10 L352.50 361.70 L353.75 361.51 L355.00 360.80 L356.70 365.00 L358.30 380.00 L359.55 377.53 L360.80 375.00 L362.05 371.67 L363.30 367.50 L364.55 367.33 L365.80 365.80 L366.93 363.67 L368.07 362.39 L369.20 360.80 L370.30 360.88 L371.40 361.49 L372.50 361.70 L374.20 364.20 L375.45 361.57 L376.70 359.20 L377.95 360.39 L379.20 361.70 L380.45 367.27 L381.70 371.70 L382.95 369.39 L384.20 366.70 L385.45 365.31 L386.70 363.30 L387.95 365.94 L389.20 366.70 L390.45 370.98 L391.70 375.80 L392.95 374.83 L394.20 373.30 L395.45 375.86 L396.70 379.20 L397.80 380.47 L398.90 381.96 L400.00 385.00 L401.25 383.46 L402.50 383.30 L404.20 380.00 L405.30 381.89 L406.40 383.81 L407.50 386.70 L408.75 389.72 L410.00 391.70 L411.70 404.20 L412.95 403.60 L414.20 402.50 L415.30 405.64 L416.40 409.30 L417.50 412.50 L418.60 411.72 L419.70 411.29 L420.80 410.00 L421.93 408.34 L423.07 408.63 L424.20 408.30 L425.45 405.22 L426.70 401.70 L427.95 402.43 L429.20 403.30 L430.45 405.04 L431.70 406.70 L432.95 407.55 L434.20 408.42 L435.45 408.55 L436.70 409.20 L437.95 405.73 L439.20 403.30 L440.00 405.00 L441.70 397.50 L442.80 398.42 L443.90 398.39 L445.00 398.30 L446.25 396.59 L447.50 395.00 L449.20 393.30 L450.80 396.70 L451.70 408.30 L453.30 403.30 L455.00 405.80 L456.70 400.00 L457.95 398.62 L459.20 397.50 L460.45 398.00 L461.70 400.00 L462.80 399.88 L463.90 399.41 L465.00 398.30 L466.70 392.50 L467.80 392.28 L468.90 391.88 L470.00 392.50 L470.80 410.00 L472.05 413.22 L473.30 415.00 L474.55 414.55 L475.80 413.30 L477.50 419.20 L478.75 417.08 L480.00 412.50 L481.25 411.86 L482.50 411.70 L483.75 416.64 L485.00 420.80 L486.25 418.76 L487.50 418.30 L488.60 418.86 L489.70 419.81 L490.80 420.00 L492.05 417.22 L493.30 413.30 L494.55 415.70 L495.80 418.30 L497.05 420.83 L498.30 423.30 L499.43 423.67 L500.57 422.74 L501.70 421.70 L502.95 426.92 L504.20 432.50 L505.45 432.12 L506.70 430.80 L507.95 432.12 L509.20 432.50 L510.45 435.05 L511.70 440.00 L512.95 441.11 L514.20 441.70 L515.80 448.30 L517.05 445.76 L518.30 444.20 L519.55 442.69 L520.80 442.09 L522.05 442.95 L523.30 443.30 L524.43 443.16 L525.57 444.63 L526.70 445.80 L527.95 445.75 L529.20 446.70 L530.45 449.83 L531.70 451.70 L533.30 449.20 L534.55 454.02 L535.80 458.00 L537.05 457.79 L538.30 458.30 L540.00 454.20 L541.25 457.48 L542.50 460.00 L543.60 460.19 L544.70 462.54 L545.80 464.20 L547.50 475.00 L548.60 472.79 L549.70 470.31 L550.80 468.30 L551.93 469.70 L553.07 471.23 L554.20 472.50 L555.45 471.82 L556.70 473.30 L557.80 472.33 L558.90 470.26 L560.00 468.30 L561.10 469.59 L562.20 469.72 L563.30 469.20 L564.43 467.41 L565.57 467.60 L566.70 467.50 L567.80 469.69 L568.90 472.89 L570.00 475.00 L571.10 474.94 L572.20 475.82 L573.30 475.80 L574.55 474.01 L575.80 471.70 L577.05 473.61 L578.30 475.00 L579.55 476.40 L580.80 480.00 L582.05 479.10 L583.30 478.30 L585.00 483.30 L586.25 479.44 L587.50 475.80 L588.60 481.04 L589.70 485.67 L590.80 490.00 L591.93 490.20 L593.07 491.29 L594.20 491.70 L595.30 492.28 L596.40 491.88 L597.50 490.80 L598.30 494.20 L599.43 495.37 L600.57 496.34 L601.70 497.50 L602.80 496.98 L603.90 496.41 L605.00 495.50 L606.25 496.76 L607.50 498.30 L608.30 508.00 L610.00 502.00 L611.10 501.60 L612.20 502.46 L613.30 503.30 L614.43 504.43 L615.57 502.69 L616.70 503.30 L618.30 499.20 L619.55 496.63 L620.80 496.70 L622.05 492.86 L623.30 490.00 L625.00 486.70 L626.10 487.15 L627.20 486.70 L628.30 486.00 L630.00 488.30 L631.25 487.21 L632.50 486.70 L633.75 483.63 L635.00 482.50 L636.25 484.64 L637.50 488.30 L638.75 487.33 L640.00 486.70 L641.25 487.69 L642.50 489.20 L643.75 492.02 L645.00 494.20 L646.10 492.82 L647.20 491.99 L648.30 490.80 L649.55 493.25 L650.80 495.80 L652.05 495.95 L653.30 496.70 L655.00 501.70 L656.25 501.90 L657.50 502.50 L659.20 503.30 L660.00 496.70" stroke="#dc4173"/>
<path d="M22.50 323.75 L23.75 324.62 L25.00 325.40 L26.25 325.70 L27.50 325.80 L28.75 326.85 L30.00 327.50 L31.25 327.47 L32.50 327.50 L33.75 327.54 L35.00 328.30 L36.25 327.19 L37.50 327.50 L38.75 327.79 L40.00 330.00 L41.25 329.51 L42.50 329.20 L43.75 329.56 L45.00 330.00 L46.25 327.84 L47.50 325.80 L49.20 324.20 L50.80 326.70 L52.50 327.50 L54.20 325.00 L55.80 332.50 L57.10 343.30 L58.30 333.30 L59.20 345.00 L60.00 340.00 L60.80 325.00 L62.50 323.30 L63.75 325.00 L65.00 341.70 L65.80 353.30 L67.50 354.20 L69.20 355.00 L70.50 386.70 L71.50 387.26 L72.50 387.50 L73.75 387.67 L75.00 387.00 L76.25 385.49 L77.50 384.00 L78.75 383.06 L80.00 381.70 L81.10 380.86 L82.20 380.51 L83.30 380.00 L84.20 366.70 L85.45 366.55 L86.70 368.00 L87.80 368.37 L88.90 369.30 L90.00 370.00 L91.50 369.89 L93.00 369.00 L94.00 369.24 L95.00 368.30 L96.25 366.67 L97.50 367.00 L98.75 366.64 L100.00 365.80 L101.10 365.70 L102.20 365.74 L103.30 365.00 L105.00 353.30 L106.10 352.94 L107.20 352.85 L108.30 353.30 L109.43 352.43 L110.57 352.41 L111.70 352.50 L112.80 354.20 L113.90 355.03 L115.00 356.70 L116.10 357.07 L117.20 358.92 L118.30 360.00 L119.43 358.86 L120.57 357.69 L121.70 357.50 L122.80 357.48 L123.90 356.72 L125.00 355.80 L126.10 355.09 L127.20 355.11 L128.30 355.00 L129.43 355.81 L130.57 356.57 L131.70 357.50 L132.80 355.43 L133.90 354.66 L135.00 355.00 L136.25 352.09 L137.50 348.30 L138.75 348.47 L140.00 348.30 L141.10 349.74 L142.20 352.02 L143.30 355.00 L144.55 354.12 L145.80 353.22 L147.05 353.09 L148.30 353.30 L149.43 353.82 L150.57 353.71 L151.70 354.20 L152.80 355.18 L153.90 356.15 L155.00 357.50 L156.10 357.51 L157.20 356.95 L158.30 356.70 L159.43 355.36 L160.57 354.59 L161.70 354.20 L162.95 354.51 L164.20 355.78 L165.45 357.27 L166.70 358.30 L167.80 357.54 L168.90 357.32 L170.00 356.70 L171.25 361.63 L172.50 366.70 L173.75 364.45 L175.00 362.50 L176.10 362.61 L177.20 363.82 L178.30 364.20 L179.55 364.73 L180.80 364.14 L182.05 365.92 L183.30 366.70 L184.55 366.89 L185.80 367.64 L187.05 368.05 L188.30 369.20 L189.43 369.94 L190.57 369.93 L191.70 370.00 L193.30 367.50 L194.43 362.78 L195.57 357.60 L196.70 353.30 L197.80 356.51 L198.90 359.47 L200.00 361.70 L201.10 365.30 L202.20 367.16 L203.30 368.30 L204.43 365.95 L205.57 363.14 L206.70 360.80 L207.80 359.85 L208.90 359.35 L210.00 359.20 L211.10 359.08 L212.20 357.82 L213.30 357.50 L214.43 359.51 L215.57 360.34 L216.70 361.70 L217.80 361.70 L218.90 362.47 L220.00 362.50 L221.10 359.91 L222.20 359.73 L223.30 357.50 L224.55 355.10 L225.80 354.20 L226.93 355.50 L228.07 357.52 L229.20 358.30 L230.57 358.86 L231.93 358.73 L233.30 357.50 L234.55 357.82 L235.80 358.83 L237.05 359.59 L238.30 361.70 L240.00 376.70 L241.10 378.07 L242.20 379.62 L243.30 380.00 L244.70 384.23 L246.10 387.98 L247.50 390.80 L248.90 389.50 L250.30 388.43 L251.70 386.70 L252.95 386.71 L254.20 386.34 L255.45 385.44 L256.70 385.00 L257.95 384.71 L259.20 384.59 L260.45 384.35 L261.70 383.30 L262.95 383.85 L264.20 384.46 L265.45 385.15 L266.70 384.20 L267.80 382.15 L268.90 379.25 L270.00 376.70 L271.10 376.04 L272.20 375.80 L273.30 376.70 L274.43 373.42 L275.57 372.33 L276.70 370.00 L277.80 367.83 L278.90 365.35 L280.00 363.30 L281.25 366.94 L282.50 371.70 L283.75 365.95 L285.00 360.00 L286.10 358.67 L287.20 357.10 L288.30 355.80 L289.43 356.42 L290.57 357.61 L291.70 357.50 L293.30 367.50 L294.43 364.59 L295.57 359.51 L296.70 355.80 L297.80 356.86 L298.90 357.65 L300.00 359.20 L301.10 360.41 L302.20 361.16 L303.30 362.50 L304.43 360.83 L305.57 359.90 L306.70 358.30 L307.80 356.95 L308.90 355.76 L310.00 355.00 L311.25 354.15 L312.50 354.20 L313.75 359.94 L315.00 365.00 L316.10 361.91 L317.20 361.11 L318.30 360.00 L319.55 359.09 L320.80 358.69 L322.05 359.39 L323.30 359.20 L324.55 359.16 L325.80 359.62 L327.05 360.07 L328.30 360.00 L329.43 357.90 L330.57 356.39 L331.70 355.00 L332.80 354.85 L333.90 354.34 L335.00 353.30 L335.80 370.00 L337.05 367.91 L338.30 365.80 L340.00 371.70 L341.25 370.47 L342.50 367.50 L343.75 369.67 L345.00 370.80 L346.70 355.00 L348.30 348.30 L349.20 321.70 L350.80 329.20 L351.70 318.30 L352.95 312.75 L354.20 308.30 L355.80 295.00 L357.50 286.70 L359.20 296.70 L360.45 294.11 L361.70 291.70 L362.95 285.30 L364.20 280.00 L365.80 266.70 L367.05 278.19 L368.30 291.70 L370.00 268.30 L371.70 270.00 L372.80 272.30 L373.90 275.31 L375.00 280.00 L376.25 275.12 L377.50 271.70 L378.75 264.38 L380.00 256.70 L381.25 263.67 L382.50 270.00 L383.75 256.08 L385.00 243.30 L386.25 250.13 L387.50 255.80 L389.20 231.70 L390.30 238.58 L391.40 244.69 L392.50 249.20 L393.60 251.54 L394.70 254.61 L395.80 258.30 L397.50 281.70 L398.75 285.43 L400.00 288.30 L401.25 283.31 L402.50 277.50 L403.75 286.24 L405.00 295.00 L406.70 278.30 L407.95 272.36 L409.20 266.70 L410.45 272.32 L411.70 277.50 L413.30 268.30 L415.00 273.30 L416.70 258.30 L417.95 258.55 L419.20 258.30 L420.00 243.30 L421.10 243.45 L422.20 243.48 L423.30 242.50 L424.43 240.29 L425.57 239.72 L426.70 238.30 L428.30 235.80 L430.00 246.70 L431.10 247.02 L432.20 247.00 L433.30 247.50 L434.55 249.48 L435.80 248.30 L437.50 252.50 L439.20 236.70 L440.80 250.00 L442.05 247.22 L443.30 242.50 L444.43 242.74 L445.57 244.48 L446.70 245.80 L447.95 244.43 L449.20 243.30 L450.80 261.70 L452.05 260.92 L453.30 260.80 L455.00 265.80 L456.70 253.30 L458.30 238.30 L460.00 240.00 L461.70 233.30 L463.30 231.70 L463.30 211.70 L465.00 223.30 L466.70 220.00 L467.50 230.00 L469.20 241.70 L470.80 263.30 L471.70 278.30 L473.30 288.30 L475.00 276.70 L476.25 280.09 L477.50 283.30 L478.75 285.20 L480.00 286.70 L481.25 287.58 L482.50 288.30 L484.20 295.80 L485.45 286.84 L486.70 278.30 L487.80 276.90 L488.90 275.80 L490.00 273.30 L491.70 270.00 L492.95 276.67 L494.20 283.30 L495.80 300.00 L497.50 275.00 L498.75 283.44 L500.00 291.70 L501.70 283.30 L502.95 287.78 L504.20 291.70 L505.80 273.30 L507.50 270.00 L508.75 272.06 L510.00 275.00 L511.70 281.70 L512.95 278.40 L514.20 275.00 L515.80 303.30 L517.50 271.70 L518.60 271.38 L519.70 270.63 L520.80 270.00 L522.50 277.50 L523.75 273.44 L525.00 270.00 L526.70 275.00 L528.00 269.20 L529.00 272.89 L530.00 278.30 L531.25 289.92 L532.50 301.70 L534.20 300.00 L535.80 306.70 L537.50 305.00 L539.20 330.00 L540.80 308.30 L542.50 304.20 L544.20 310.00 L545.00 318.30 L546.70 323.30 L547.50 346.70 L549.20 336.70 L550.00 335.80 L551.70 345.00 L552.95 347.26 L554.20 350.00 L555.45 347.79 L556.70 346.70 L558.30 351.70 L560.00 355.00 L561.70 350.00 L563.30 356.70 L564.20 368.30 L565.80 348.30 L567.50 345.00 L568.75 349.21 L570.00 353.30 L571.25 352.66 L572.50 351.70 L573.75 351.97 L575.00 351.70 L576.70 356.70 L577.95 359.29 L579.20 360.00 L580.80 361.70 L582.05 368.97 L583.30 375.00 L584.55 371.96 L585.80 368.30 L586.93 368.20 L588.07 366.57 L589.20 366.70 L590.45 369.54 L591.70 371.70 L592.95 373.71 L594.20 373.30 L595.80 376.70 L597.05 370.96 L598.30 366.70 L599.55 367.61 L600.80 370.00 L602.50 380.00 L604.20 386.70 L605.80 385.80 L607.05 392.98 L608.30 400.00 L610.00 376.70 L611.25 376.86 L612.50 378.30 L614.20 371.70 L615.80 356.70 L617.05 354.89 L618.30 353.30 L620.00 341.70 L621.25 344.97 L622.50 348.30 L624.20 350.00 L625.45 357.57 L626.70 365.00 L627.80 361.98 L628.90 359.86 L630.00 358.30 L631.25 361.22 L632.50 365.00 L633.75 359.26 L635.00 351.70 L636.25 352.96 L637.50 355.00 L638.55 353.59 L639.60 352.12 L640.65 350.90 L641.70 349.20 L642.80 350.68 L643.90 352.19 L645.00 353.30 L646.25 357.69 L647.50 361.70 L648.75 357.71 L650.00 353.30 L651.25 356.48 L652.50 358.30 L654.20 374.20 L655.45 372.15 L656.70 370.00 L657.80 371.06 L658.90 373.61 L660.00 375.00" stroke="#1db870"/>
</g>
<circle cx="282.1" cy="572.9" r="2.1" fill="#1db870"/>
<text x="288" y="576.4" font-size="10" fill="#8a8a8a" stroke="#8a8a8a" stroke-width="0.25" textLength="40" lengthAdjust="spacingAndGlyphs"  xml:space="preserve">Net Won</text>
<circle cx="346.2" cy="572.9" r="2.1" fill="#f0f050"/>
<text x="352.4" y="576.4" font-size="10" fill="#8a8a8a" stroke="#8a8a8a" stroke-width="0.25" textLength="58" lengthAdjust="spacingAndGlyphs"  xml:space="preserve">Net Won  EV</text>
<circle cx="428.6" cy="572.9" r="2.1" fill="#3b97e3"/>
<text x="435" y="576.4" font-size="10" fill="#8a8a8a" stroke="#8a8a8a" stroke-width="0.25" textLength="86.9" lengthAdjust="spacingAndGlyphs"  xml:space="preserve">Won at showdown</text>
<circle cx="540.2" cy="572.9" r="2.1" fill="#dc4173"/>
<text x="546.9" y="576.4" font-size="10" fill="#8a8a8a" stroke="#8a8a8a" stroke-width="0.25" textLength="113.2" lengthAdjust="spacingAndGlyphs"  xml:space="preserve">Won without showdown</text>
<rect x="646" y="577.7" width="70" height="18.5" fill="#ffffff"/>
<rect x="630" y="596" width="86" height="1" fill="#d0d0d0"/>
<defs><linearGradient id="og" x1="0" y1="0" x2="0" y2="1"><stop offset="0" stop-color="#f86e2c"/><stop offset="1" stop-color="#e84810"/></linearGradient></defs>
<g transform="translate(639.2,585.5) rotate(-13)"><rect x="-9.6" y="-9.3" width="19.2" height="18.6" rx="1.8" fill="url(#og)"/><path d="M6 -4.3 L-2 -4.3 C-6.6 -4.3 -6.6 0.9 -2 0.9 L2 0.9 C6.6 0.9 6.6 5.3 2 5.3 L-6 5.3" fill="none" stroke="#fff" stroke-width="2.8" stroke-linecap="round" stroke-linejoin="round"/></g>
<g fill="none" stroke="#1f6fcf" stroke-width="1.7"><rect x="656.4" y="583.6" width="9.6" height="5.6"/><path d="M661.2 581 V592.4"/></g>
<circle cx="676" cy="585.3" r="1.2" fill="none" stroke="#1f6fcf" stroke-width="1.1"/>
<circle cx="681.3" cy="586.4" r="1.25" fill="#1f6fcf"/>
<path d="M682.4 586.6 Q682.3 589.6 679.8 591.2" fill="none" stroke="#1f6fcf" stroke-width="1.5" stroke-linecap="round"/>
<circle cx="696.6" cy="586.6" r="6" fill="none" stroke="#1f6fcf" stroke-width="1.5"/>
<ellipse cx="695" cy="585.1" rx="0.8" ry="1.4" fill="#1f6fcf"/><ellipse cx="698.3" cy="585.1" rx="0.8" ry="1.4" fill="#1f6fcf"/>
<path d="M693.6 588.4 Q696.6 591.2 699.6 588.4" fill="none" stroke="#1f6fcf" stroke-width="1.2"/>
<rect x="711.3" y="581" width="5" height="8.6" rx="2.5" fill="#1f6fcf"/>
<path d="M709.6 586.5 Q709.6 591.8 713.8 591.8 Q718 591.8 718 586.5" fill="none" stroke="#1f6fcf" stroke-width="1.3"/>
</g>
</svg>
</body></html>
